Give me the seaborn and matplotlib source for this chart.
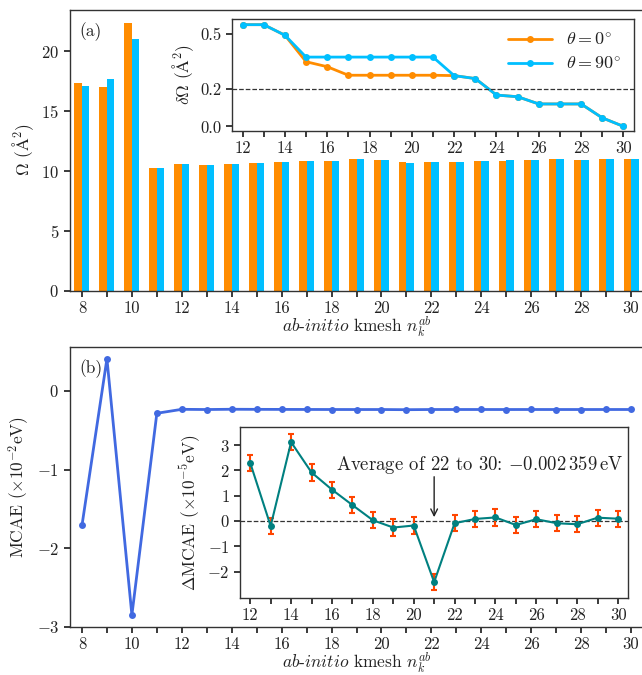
import matplotlib
matplotlib.use("Agg")
import matplotlib.pyplot as plt
import seaborn as sns
import pandas as pd
import numpy as np

# ---------------- data ----------------
kmesh = list(range(8, 31))
omega_0 = [17.38, 17.05, 22.40, 10.27, 10.60, 10.52, 10.60, 10.69, 10.77, 10.85, 10.85, 11.02,
           10.94, 10.77, 10.77, 10.77, 10.85, 10.85, 10.94, 11.02, 10.94, 11.02, 11.02]
omega_90 = [17.13, 17.70, 21.06, 10.27, 10.60, 10.52, 10.60, 10.69, 10.77, 10.85, 10.85, 11.02,
            10.94, 10.69, 10.77, 10.77, 10.85, 10.94, 10.94, 11.02, 10.94, 11.02, 11.02]

k_inset = list(range(12, 31))
dOmega_0 = [0.549, 0.549, 0.492, 0.349, 0.322, 0.276, 0.276, 0.276, 0.276, 0.276,
            0.274, 0.258, 0.169, 0.160, 0.121, 0.121, 0.121, 0.046, 0.0]
dOmega_90 = [0.549, 0.549, 0.492, 0.374, 0.374, 0.374, 0.374, 0.374, 0.374, 0.374,
             0.274, 0.258, 0.169, 0.160, 0.121, 0.121, 0.121, 0.046, 0.0]

mcae = [-1.71, 0.41, -2.85, -0.284, -0.2336, -0.2361, -0.2328, -0.2340, -0.2347, -0.2353,
        -0.2359, -0.2362, -0.2361, -0.2383, -0.2360, -0.2358, -0.2358, -0.2361, -0.2358,
        -0.2360, -0.2360, -0.2358, -0.2358]
dmcae = [2.30, -0.20, 3.12, 1.92, 1.24, 0.63, 0.03, -0.26, -0.18, -2.42,
         -0.09, 0.08, 0.14, -0.16, 0.07, -0.09, -0.13, 0.13, 0.09]
dmcae_err = [0.32] * 19

theta_labels = [r'$\theta=0^{\circ}$', r'$\theta=90^{\circ}$']
c_orange = '#FF8C00'
c_blue = '#00BFFF'
c_line = '#4169E1'
c_teal = '#008080'
c_err = '#FF4500'

# ---------------- style ----------------
sns.set_theme(style='ticks')
plt.rcParams.update({
    'font.family': ['cmr10', 'DejaVu Serif'],
    'mathtext.fontset': 'cm',
    'axes.formatter.use_mathtext': True,
    'font.size': 12,
    'axes.labelsize': 12.5,
    'xtick.labelsize': 12,
    'ytick.labelsize': 12,
    'axes.edgecolor': '#333333',
    'axes.linewidth': 1.0,
    'xtick.color': '#222222',
    'ytick.color': '#222222',
    'xtick.major.size': 4,
    'ytick.major.size': 4,
    'xtick.major.pad': 3,
    'text.color': '#222222',
    'axes.labelcolor': '#222222',
})

fig = plt.figure(figsize=(6.42, 6.75), dpi=100)

W, H = 642, 675
def rect(l, t, r, b):
    return [l / W, 1 - b / H, (r - l) / W, (b - t) / H]

ax_a = fig.add_axes(rect(69.5, 9.5, 643.5, 290.7))
ax_b = fig.add_axes(rect(69.5, 346.7, 643.5, 626.8))
ax_ai = fig.add_axes(rect(232, 19.3, 634, 131))
ax_bi = fig.add_axes(rect(240, 426.7, 628.3, 598.3))

xticklabels = [str(k) if k % 2 == 0 else '' for k in kmesh]
xlabel = r'$ab$-$initio$ kmesh $n_k^{ab}$'

# ---- panel (a) bars ----
df_a = pd.DataFrame({
    'k': kmesh * 2,
    'omega': omega_0 + omega_90,
    'theta': [theta_labels[0]] * len(kmesh) + [theta_labels[1]] * len(kmesh),
})
sns.barplot(data=df_a, x='k', y='omega', hue='theta', native_scale=True, width=0.6,
            palette=[c_orange, c_blue], saturation=1, errorbar=None, legend=False,
            ax=ax_a, gap=0)
for p in ax_a.patches:
    p.set_linewidth(0)
ax_a.set_xlim(7.5, 30.5)
ax_a.set_ylim(0, 23.5)
ax_a.set_xticks(kmesh)
ax_a.set_xticklabels(xticklabels)
ax_a.set_yticks([0, 5, 10, 15, 20])
ax_a.set_xlabel(xlabel, labelpad=-1)
ax_a.set_ylabel(r'$\Omega$ ($\mathrm{\AA}^2$)')
ax_a.text(0.018, 0.955, '(a)', transform=ax_a.transAxes, ha='left', va='top', fontsize=12.5)

# ---- inset (a) ----
sns.lineplot(x=k_inset, y=dOmega_0, color=c_orange, marker='o', markersize=5,
             markeredgewidth=0, linewidth=2, label=theta_labels[0], ax=ax_ai)
sns.lineplot(x=k_inset, y=dOmega_90, color=c_blue, marker='o', markersize=5,
             markeredgewidth=0, linewidth=2, label=theta_labels[1], ax=ax_ai)
ax_ai.axhline(0.2, color='#333333', linestyle='--', linewidth=0.9)
ax_ai.set_xlim(11.5, 30.5)
ax_ai.set_ylim(-0.025, 0.578)
ax_ai.set_xticks(k_inset)
ax_ai.set_xticklabels([str(k) if k % 2 == 0 else '' for k in k_inset])
ax_ai.set_yticks([0.0, 0.2, 0.5])
ax_ai.set_yticklabels(['0.0', '0.2', '0.5'])
ax_ai.set_ylabel(r'$\delta\Omega$ ($\mathrm{\AA}^2$)', labelpad=3)
ax_ai.legend(loc='upper right', frameon=False, fontsize=13, handlelength=2.4,
             borderaxespad=0.3, labelspacing=0.4)

# ---- panel (b) ----
sns.lineplot(x=kmesh, y=mcae, color=c_line, marker='o', markersize=5,
             markeredgewidth=0, linewidth=2, ax=ax_b)
ax_b.set_xlim(7.5, 30.5)
ax_b.set_ylim(-3.0, 0.563)
ax_b.set_xticks(kmesh)
ax_b.set_xticklabels(xticklabels)
ax_b.set_yticks([-3, -2, -1, 0])
ax_b.set_xlabel(xlabel, labelpad=-1)
ax_b.set_ylabel(r'MCAE ($\times10^{-2}$eV)')
ax_b.text(0.018, 0.955, '(b)', transform=ax_b.transAxes, ha='left', va='top', fontsize=12.5)

# ---- inset (b) ----
ax_bi.errorbar(k_inset, dmcae, yerr=dmcae_err, fmt='none', ecolor=c_err,
               elinewidth=1.5, capsize=2.5, capthick=1.5, zorder=2)
sns.lineplot(x=k_inset, y=dmcae, color=c_teal, marker='o', markersize=5,
             markeredgewidth=0, linewidth=1.5, ax=ax_bi, zorder=3)
ax_bi.axhline(0, color='#333333', linestyle='--', linewidth=0.9, zorder=1)
ax_bi.set_xlim(11.5, 30.5)
ax_bi.set_ylim(-3.06, 3.73)
ax_bi.set_xticks(k_inset)
ax_bi.set_xticklabels([str(k) if k % 2 == 0 else '' for k in k_inset])
ax_bi.set_yticks([-2, -1, 0, 1, 2, 3])
ax_bi.set_ylabel(r'$\Delta$MCAE ($\times10^{-5}$eV)', labelpad=3)
ax_bi.text(23.2, 2.2, r'Average of 22 to 30: $-0.002\,359\,$eV',
           ha='center', va='center', fontsize=13.5)
ax_bi.annotate('', xy=(21, 0.15), xytext=(21, 1.75),
               arrowprops=dict(arrowstyle='->', color='#222222', lw=1.0,
                               shrinkA=0, shrinkB=0))

fig.savefig('out.png', dpi=100)
